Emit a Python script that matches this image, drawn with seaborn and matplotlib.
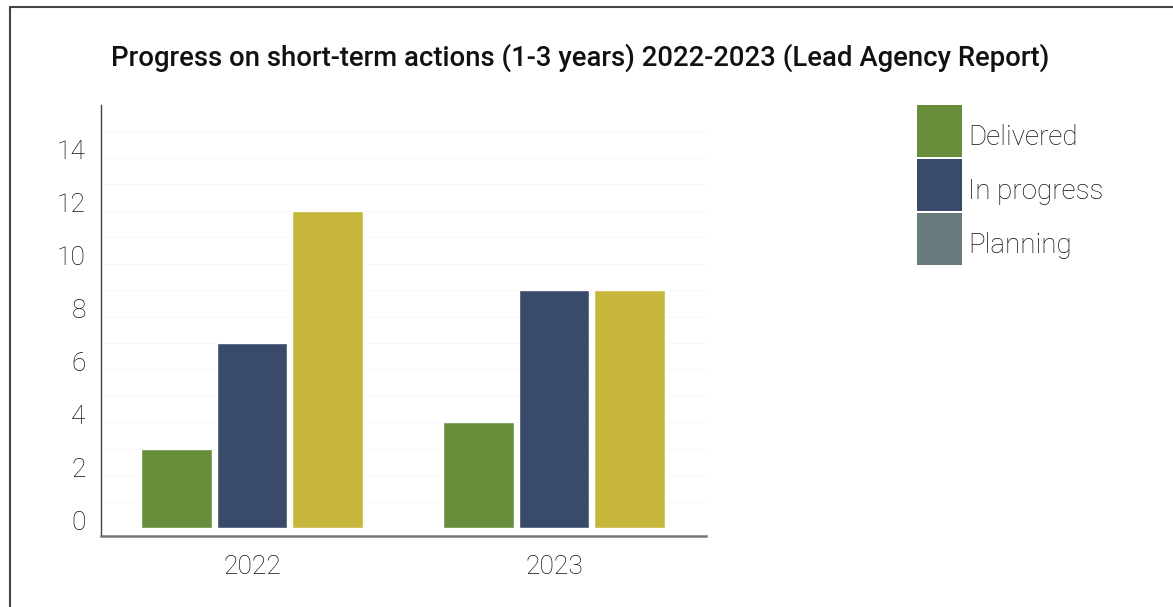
import matplotlib
matplotlib.use("Agg")
import matplotlib.pyplot as plt
import matplotlib.transforms as mtransforms
from matplotlib.patches import Patch
from matplotlib.lines import Line2D
import seaborn as sns
import pandas as pd

years = ["2022", "2023"]
statuses = ["Delivered", "In progress", "Planning"]
delivered = [3, 4]
in_progress = [7, 9]
planning = [12, 9]
y_ticks = [0, 2, 4, 6, 8, 10, 12, 14]
title = "Progress on short-term actions (1-3 years) 2022-2023 (Lead Agency Report)"

bar_colors = ["#688e3c", "#3a4a6b", "#c6b73c"]
legend_colors = ["#688e3c", "#3a4a6b", "#687a7c"]

rows = []
for i, y in enumerate(years):
    for s, vals in zip(statuses, [delivered, in_progress, planning]):
        rows.append({"Year": y, "Status": s, "Count": vals[i]})
df = pd.DataFrame(rows)

sns.set_theme(style="white")
plt.rcParams["font.family"] = ["Roboto", "DejaVu Sans"]

fig = plt.figure(figsize=(11.73, 6.07), dpi=100)
ax = fig.add_axes([101 / 1173, 1 - 536 / 607, (706 - 101) / 1173, (536 - 105) / 607])

sns.barplot(data=df, x="Year", y="Count", hue="Status", hue_order=statuses,
            palette=bar_colors, width=0.75, gap=0.07, ax=ax, legend=False,
            saturation=1, zorder=3)

ax.set_xlim(-0.50, 1.503)
ax.set_ylim(-0.3, 16)
ax.set_yticks(y_ticks)
ax.set_yticklabels([str(t) for t in y_ticks])
for v in range(1, 16):
    ax.axhline(v, color="#f4f4f4", lw=0.5, zorder=1)
ax.set_xlabel("")
ax.set_ylabel("")
ax.tick_params(axis="both", length=0)
ax.tick_params(axis="y", pad=11, labelsize=19, labelcolor="#111111")
ax.tick_params(axis="x", pad=14, labelsize=19, labelcolor="#111111")
for lab in ax.get_yticklabels() + ax.get_xticklabels():
    lab.set_fontweight("light")
offset = mtransforms.ScaledTranslation(0, 8 / 100, fig.dpi_scale_trans)
for lab in ax.get_yticklabels():
    lab.set_transform(lab.get_transform() + offset)

for side in ["top", "right"]:
    ax.spines[side].set_visible(False)
ax.spines["left"].set_color("#444444")
ax.spines["left"].set_linewidth(1.0)
ax.spines["bottom"].set_color("#777777")
ax.spines["bottom"].set_linewidth(1.8)

handles = [Patch(facecolor=c, edgecolor="none") for c in legend_colors]
leg = fig.legend(handles, statuses, loc="upper left",
                 bbox_to_anchor=(917 / 1173, 1 - 105 / 607), frameon=False,
                 borderpad=0, borderaxespad=0, handlelength=1.62, handleheight=2.5,
                 labelspacing=0.07, handletextpad=0.22, prop={"size": 20, "weight": "light"})
for t in leg.get_texts():
    t.set_color("#111111")
    t.set_y(-6)

fig.text(580 / 1173, 1 - 58 / 607, title, ha="center", va="center",
         fontsize=19.8, fontweight="medium", color="#111111")

fig.add_artist(Line2D([10 / 1173, 1], [1 - 7 / 607, 1 - 7 / 607], color="#444444", lw=1.5))
fig.add_artist(Line2D([10 / 1173, 10 / 1173], [0, 1 - 7 / 607], color="#444444", lw=1.5))

fig.savefig("out.png", dpi=100)
